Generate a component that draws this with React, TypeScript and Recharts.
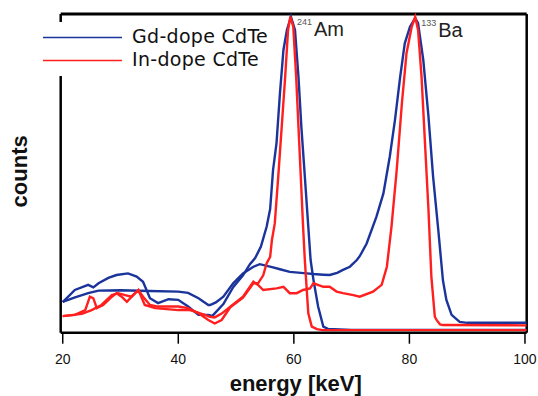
import { LineChart, Line, XAxis, YAxis, ReferenceLine, ReferenceDot, Legend } from 'recharts';

// energy [keV], counts (normalised, 100 = top of frame)
const gdAmSpectrum = [
  [20, 9.6], [22.1, 13.4], [24.4, 15], [25.3, 14.2], [26.2, 15.5], [27.9, 17.2],
  [29.3, 18.1], [31.3, 18.6], [32.8, 17.6], [33.9, 16], [35.1, 10.8], [36.5, 9.3],
  [38.3, 10.5], [40, 10.3], [41.7, 8.2], [43.5, 5.6], [45.2, 5.6], [45.9, 5.3],
  [47.8, 9], [49.5, 14.3], [51.2, 18], [52.4, 21.5], [53.3, 23.4], [54.3, 27],
  [55.3, 33.3], [55.9, 38.8], [56.4, 51], [57, 59.5], [57.6, 75.2], [58.2, 88.7],
  [58.8, 95], [59.5, 99.1], [60.2, 95], [60.8, 80.3], [61.3, 64.6], [61.9, 49],
  [62.5, 33.3], [62.9, 22.8], [63.4, 16.5], [64.2, 8.2], [65.1, 1.9], [65.9, 1.2],
  [70, 0.9], [100.3, 0.9],
];

const gdBaSpectrum = [
  [20, 9.7], [22, 11], [24.4, 12.4], [26.2, 13.2], [30, 13.3], [35, 13.1], [40, 12.9],
  [41.7, 12.5], [43.5, 10.8], [45.2, 8.7], [45.5, 8.7], [46.5, 9.5], [47.8, 11.3],
  [49.5, 15.5], [51.2, 18.6], [53, 20.7], [54.1, 21.5], [56.4, 20.5], [57.6, 19.9],
  [59.3, 19.1], [62.2, 18.6], [63.4, 18.4], [65.1, 18.2], [66.2, 18.1], [67.5, 18.8],
  [68.5, 19.7], [69.7, 20.7], [70.9, 22.8], [71.4, 24], [72.6, 28], [74.3, 36.4],
  [75.5, 43.7], [76.6, 55.2], [77.5, 66.7], [78.4, 80.3], [79.2, 90.8], [80.1, 96],
  [81, 98.7], [81.5, 97.1], [82.4, 85.6], [83.3, 67.8], [84.1, 49], [85, 32.2],
  [85.8, 16.5], [86.4, 10.3], [87.3, 5.6], [88.7, 3.4], [90, 3.1], [100.3, 3.1],
];

const inAmSpectrum = [
  [20, 5.2], [22.1, 5.6], [23.9, 7.1], [24.7, 11.3], [25.3, 10.8], [25.9, 7.7],
  [27, 8.7], [28.2, 10.8], [29.3, 12.4], [30.2, 11.3], [31.1, 9.7], [32.2, 11.8],
  [33.1, 13.4], [33.9, 11.3], [35.1, 8.7], [36.5, 8.2], [40, 8.2], [41.7, 7.7],
  [43.5, 6.1], [45.2, 4], [46.3, 2.9], [47.5, 4], [49, 8], [51.2, 11], [53, 15.5],
  [53.8, 15.5], [54.7, 18], [55.3, 21.8], [55.9, 23.8], [56.2, 29], [56.7, 34.3],
  [57.3, 49], [57.9, 64.6], [58.5, 80.3], [59, 95], [59.4, 99.2], [59.9, 96],
  [60.4, 80.3], [60.8, 64.6], [61.2, 49], [61.6, 33.3], [61.9, 22.8], [62.2, 14.4],
  [62.5, 6.1], [63.1, 1.9], [64, 1.1], [65, 0.8], [100.3, 0.8],
];

const inBaSpectrum = [
  [20, 5.2], [23.3, 5.9], [25, 7.1], [26.7, 8.7], [28.5, 11.8], [29.6, 12.4],
  [30.8, 11.8], [31.9, 11.3], [33.1, 13.4], [34.2, 8.7], [36, 7.7], [40, 7.1],
  [42, 7.1], [42.9, 6.6], [44.6, 5.6], [45.5, 5], [46.3, 4.8], [47.5, 6], [49, 8.2],
  [51.2, 11.3], [53, 16], [53.8, 15], [54.7, 13.4], [57, 13.9], [58.2, 14.4],
  [59.3, 12.4], [60.5, 12.4], [61.6, 13.4], [62.8, 13.9], [63.4, 15.5], [65.1, 14.4],
  [66.2, 14.4], [67.4, 12.9], [68.5, 12.4], [70.3, 11.8], [71.4, 11.3], [73.7, 12.9],
  [75.2, 15], [76.1, 20.7], [76.9, 33.3], [77.8, 51], [78.7, 72], [79.5, 87.7],
  [80.4, 96], [81, 99.1], [81.5, 95], [82.1, 80.3], [82.7, 59.4], [83.3, 38.5],
  [83.8, 17.6], [84.4, 5], [84.7, 4], [85.3, 2.6], [85.8, 2.4], [100.3, 2.3],
];

const energyTicks = [20, 40, 60, 80, 100];
const seriesNames = ['Gd-dope CdTe', 'In-dope CdTe'];

const BLUE = '#1b349c';
const RED = '#ff1f1f';

const toPoints = (rows: number[][]) => rows.map(([e, v]) => ({ e, v }));

const LegendBox = () => (
  <div style={{ background: '#fff', width: 262, height: 54, position: 'relative' }}>
    {seriesNames.map((name, i) => (
      <div
        key={name}
        style={{ position: 'absolute', left: 0, top: i === 0 ? 4 : 27, display: 'flex', alignItems: 'center' }}
      >
        <svg width={118} height={20}>
          <line x1={29} x2={108} y1={11.5} y2={11.5} stroke={i === 0 ? BLUE : RED} strokeWidth={1.4} />
        </svg>
        <span
          style={{
            fontFamily: 'DejaVu Sans',
            fontSize: 19,
            letterSpacing: 0.3,
            color: '#111',
            lineHeight: '20px',
          }}
        >
          {name}
        </span>
      </div>
    ))}
  </div>
);

const peakLabel = (mass: string, element: string) => (props: any) => {
  const { x, y } = props.viewBox;
  return (
    <g fontFamily="Liberation Sans, Arial" >
      <text x={x + 6} y={y + 8} fontSize={9} fill="#555">{mass}</text>
      <text x={x + 23} y={y + 19} fontSize={20} fill="#222">{element}</text>
    </g>
  );
};

export default function App() {
  return (
    <div style={{ position: 'absolute', left: 0, top: 0 }}>
      <LineChart width={538} height={396} margin={{ top: 14, right: 11.3, left: 0, bottom: 0 }}>
        <XAxis
          type="number"
          dataKey="e"
          domain={[19.65, 100.3]}
          ticks={energyTicks}
          allowDataOverflow
          height={63.3}
          tickSize={11}
          tickMargin={10}
          axisLine={{ stroke: '#000', strokeWidth: 2.5 }}
          tickLine={{ stroke: '#000', strokeWidth: 1.5 }}
          tick={{ fontSize: 14, fill: '#111', fontFamily: 'Liberation Sans, Arial' }}
          label={{
            content: (props: any) => {
              const { x, y, width } = props.viewBox;
              return (
                <text x={x + width / 2 + 2} y={y + 58} textAnchor="middle" fontSize={22} fontWeight="bold" fontFamily="Liberation Sans, Arial" fill="#111">
                  energy [keV]
                </text>
              );
            },
          }}
        />
        <YAxis
          type="number"
          dataKey="v"
          domain={[0, 100]}
          width={60.7}
          tick={false}
          tickLine={false}
          axisLine={{ stroke: '#000', strokeWidth: 2.5 }}
          label={{
            content: (props: any) => {
              const { x, y, height } = props.viewBox;
              const cx = x + 27;
              const cy = y + height / 2 - 2;
              return (
                <text x={cx} y={cy} transform={`rotate(-90 ${cx} ${cy})`} textAnchor="middle" fontSize={22} fontWeight="bold" fontFamily="Liberation Sans, Arial" fill="#111">
                  counts
                </text>
              );
            },
          }}
        />
        <ReferenceLine y={100} stroke="#000" strokeWidth={3} />
        <ReferenceLine x={100.3} stroke="#000" strokeWidth={2.5} />
        <Line data={toPoints(gdAmSpectrum)} dataKey="v" stroke={BLUE} strokeWidth={2.4} dot={false} isAnimationActive={false} />
        <Line data={toPoints(gdBaSpectrum)} dataKey="v" stroke={BLUE} strokeWidth={2.4} dot={false} isAnimationActive={false} />
        <Line data={toPoints(inAmSpectrum)} dataKey="v" stroke={RED} strokeWidth={2.4} dot={false} isAnimationActive={false} />
        <Line data={toPoints(inBaSpectrum)} dataKey="v" stroke={RED} strokeWidth={2.4} dot={false} isAnimationActive={false} />
        <ReferenceDot x={59.5} y={99.1} r={0} fill="none" stroke="none" label={{ content: peakLabel('241', 'Am') }} />
        <ReferenceDot x={81} y={98.9} r={0} fill="none" stroke="none" label={{ content: peakLabel('133', 'Ba') }} />
        <Legend
          layout="horizontal"
          verticalAlign="middle"
          align="center"
          content={() => <LegendBox />}
          wrapperStyle={{ left: 14, top: 22, width: 262, height: 54 }}
        />
      </LineChart>
    </div>
  );
}
